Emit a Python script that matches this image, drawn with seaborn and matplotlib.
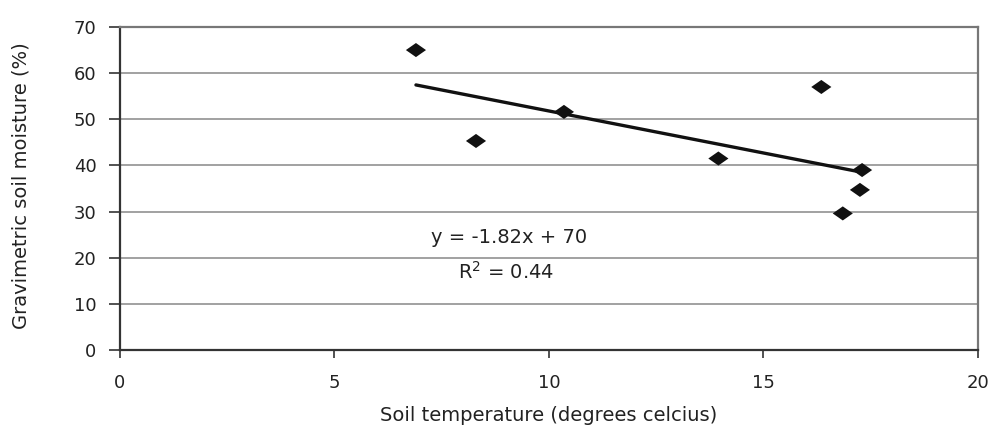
import matplotlib
matplotlib.use("Agg")
import matplotlib.pyplot as plt
import seaborn as sns
import numpy as np
import pandas as pd

# Data
soil_temperature = [6.9, 8.3, 10.35, 13.95, 16.35, 17.3, 17.25, 16.85]
soil_moisture = [65.0, 45.3, 51.6, 41.5, 57.0, 39.0, 34.7, 29.6]
trend_slope = -1.82
trend_intercept = 70
x_ticks = [0, 5, 10, 15, 20]
y_ticks = [0, 10, 20, 30, 40, 50, 60, 70]

sns.set_theme(style="white")
plt.rcParams['font.family'] = ['DejaVu Sans']

fig = plt.figure(figsize=(9.93, 4.41), dpi=100)
ax = fig.add_axes([0.1208, 0.2063, 0.8640, 0.7325])

df = pd.DataFrame({"temp": soil_temperature, "moist": soil_moisture})
xs = np.array([min(soil_temperature), max(soil_temperature)])
trend = pd.DataFrame({"temp": xs, "moist": trend_slope * xs + trend_intercept})

for yv in y_ticks[1:]:
    ax.axhline(yv, color="#9a9a9a", lw=1.3, zorder=0)

sns.lineplot(data=trend, x="temp", y="moist", color="#111111", lw=2.4, ax=ax, zorder=2)
diamond = [(-1, 0), (0, 0.7), (1, 0), (0, -0.7), (-1, 0)]
sns.scatterplot(data=df, x="temp", y="moist", marker=diamond, s=210, color="#111111",
                edgecolor="none", ax=ax, zorder=3)

ax.set_xlim(0, 20)
ax.set_ylim(0, 70)
ax.set_xticks(x_ticks)
ax.set_yticks(y_ticks)
ax.set_xticklabels([str(v) for v in x_ticks])
ax.set_yticklabels([str(v) for v in y_ticks])
ax.tick_params(axis="both", which="both", direction="out", length=8, width=1.2,
               colors="#333333", labelsize=13, labelcolor="#222222")
ax.tick_params(axis="x", length=6, pad=11)
ax.tick_params(axis="y", pad=9)
ax.xaxis.set_ticks_position("bottom")
ax.yaxis.set_ticks_position("left")

for side in ["left", "bottom"]:
    ax.spines[side].set_color("#333333")
    ax.spines[side].set_linewidth(1.6)
for side in ["top", "right"]:
    ax.spines[side].set_color("#777777")
    ax.spines[side].set_linewidth(1.6)

ax.set_xlabel("Soil temperature (degrees celcius)", fontsize=14, color="#222222", labelpad=10)
ax.set_ylabel("Gravimetric soil moisture (%)", fontsize=14, color="#222222", labelpad=8)
ax.yaxis.set_label_coords(-0.104, 0.51)

ax.text(9.07, 24.4, "y = -1.82x + 70", fontsize=14, color="#222222", va="center", ha="center")
ax.text(9.0, 17.0, "R$^{2}$ = 0.44", fontsize=14, color="#222222", va="center", ha="center")

fig.savefig("out.png", dpi=100)
